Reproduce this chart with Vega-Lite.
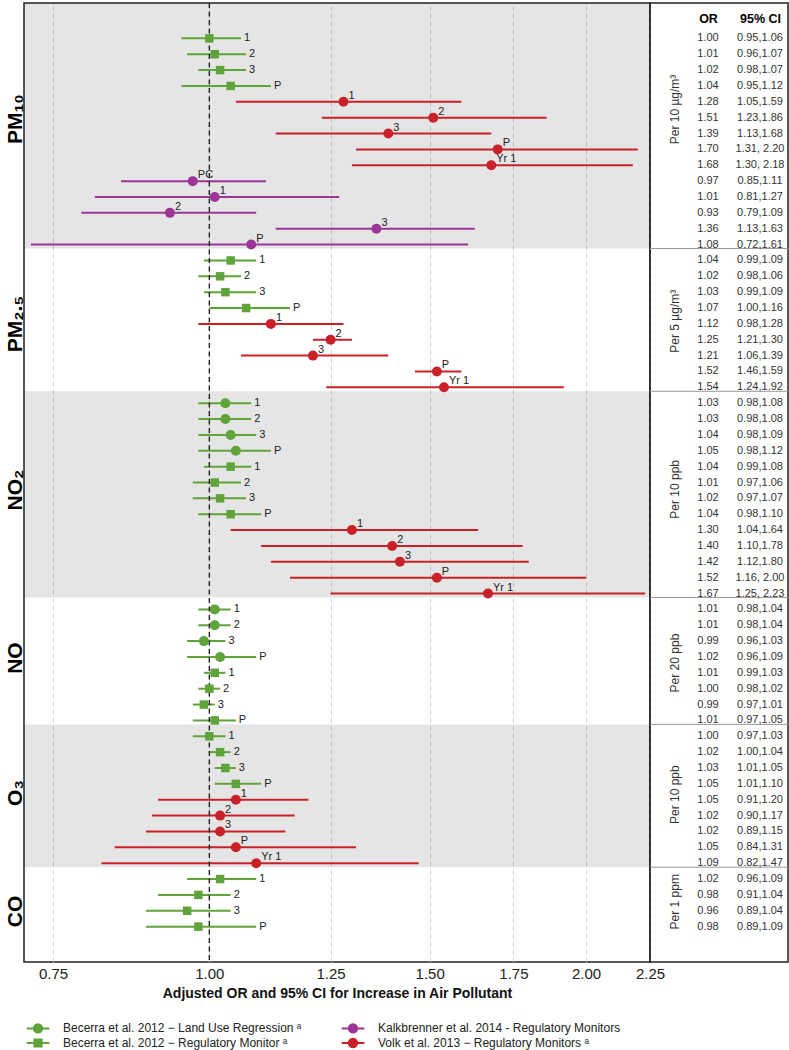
{
  "$schema": "https://vega.github.io/schema/vega-lite/v6.json",
  "padding": {"left": 3, "top": 1, "right": 0, "bottom": 0},
  "config": {
    "font": "Liberation Sans",
    "view": {"stroke": "#222", "strokeWidth": 1.5},
    "axis": {"labelFont": "Liberation Sans", "titleFont": "Liberation Sans"},
    "legend": {"labelFont": "Liberation Sans"}
  },
  "datasets": {
    "rows": [
      {"row": 1, "pol": "PM10", "study": "RM", "lab": "1", "or": 1.00, "lo": 0.95, "hi": 1.06, "ci": "0.95,1.06"},
      {"row": 2, "pol": "PM10", "study": "RM", "lab": "2", "or": 1.01, "lo": 0.96, "hi": 1.07, "ci": "0.96,1.07"},
      {"row": 3, "pol": "PM10", "study": "RM", "lab": "3", "or": 1.02, "lo": 0.98, "hi": 1.07, "ci": "0.98,1.07"},
      {"row": 4, "pol": "PM10", "study": "RM", "lab": "P", "or": 1.04, "lo": 0.95, "hi": 1.12, "ci": "0.95,1.12"},
      {"row": 5, "pol": "PM10", "study": "VOL", "lab": "1", "or": 1.28, "lo": 1.05, "hi": 1.59, "ci": "1.05,1.59"},
      {"row": 6, "pol": "PM10", "study": "VOL", "lab": "2", "or": 1.51, "lo": 1.23, "hi": 1.86, "ci": "1.23,1.86"},
      {"row": 7, "pol": "PM10", "study": "VOL", "lab": "3", "or": 1.39, "lo": 1.13, "hi": 1.68, "ci": "1.13,1.68"},
      {"row": 8, "pol": "PM10", "study": "VOL", "lab": "P", "or": 1.70, "lo": 1.31, "hi": 2.20, "ci": "1.31, 2.20"},
      {"row": 9, "pol": "PM10", "study": "VOL", "lab": "Yr 1", "or": 1.68, "lo": 1.30, "hi": 2.18, "ci": "1.30, 2.18"},
      {"row": 10, "pol": "PM10", "study": "KAL", "lab": "PC", "or": 0.97, "lo": 0.85, "hi": 1.11, "ci": "0.85,1.11"},
      {"row": 11, "pol": "PM10", "study": "KAL", "lab": "1", "or": 1.01, "lo": 0.81, "hi": 1.27, "ci": "0.81,1.27"},
      {"row": 12, "pol": "PM10", "study": "KAL", "lab": "2", "or": 0.93, "lo": 0.79, "hi": 1.09, "ci": "0.79,1.09"},
      {"row": 13, "pol": "PM10", "study": "KAL", "lab": "3", "or": 1.36, "lo": 1.13, "hi": 1.63, "ci": "1.13,1.63"},
      {"row": 14, "pol": "PM10", "study": "KAL", "lab": "P", "or": 1.08, "lo": 0.72, "hi": 1.61, "ci": "0.72,1.61"},
      {"row": 15, "pol": "PM2.5", "study": "RM", "lab": "1", "or": 1.04, "lo": 0.99, "hi": 1.09, "ci": "0.99,1.09"},
      {"row": 16, "pol": "PM2.5", "study": "RM", "lab": "2", "or": 1.02, "lo": 0.98, "hi": 1.06, "ci": "0.98,1.06"},
      {"row": 17, "pol": "PM2.5", "study": "RM", "lab": "3", "or": 1.03, "lo": 0.99, "hi": 1.09, "ci": "0.99,1.09"},
      {"row": 18, "pol": "PM2.5", "study": "RM", "lab": "P", "or": 1.07, "lo": 1.00, "hi": 1.16, "ci": "1.00,1.16"},
      {"row": 19, "pol": "PM2.5", "study": "VOL", "lab": "1", "or": 1.12, "lo": 0.98, "hi": 1.28, "ci": "0.98,1.28"},
      {"row": 20, "pol": "PM2.5", "study": "VOL", "lab": "2", "or": 1.25, "lo": 1.21, "hi": 1.30, "ci": "1.21,1.30"},
      {"row": 21, "pol": "PM2.5", "study": "VOL", "lab": "3", "or": 1.21, "lo": 1.06, "hi": 1.39, "ci": "1.06,1.39"},
      {"row": 22, "pol": "PM2.5", "study": "VOL", "lab": "P", "or": 1.52, "lo": 1.46, "hi": 1.59, "ci": "1.46,1.59"},
      {"row": 23, "pol": "PM2.5", "study": "VOL", "lab": "Yr 1", "or": 1.54, "lo": 1.24, "hi": 1.92, "ci": "1.24,1.92"},
      {"row": 24, "pol": "NO2", "study": "LUR", "lab": "1", "or": 1.03, "lo": 0.98, "hi": 1.08, "ci": "0.98,1.08"},
      {"row": 25, "pol": "NO2", "study": "LUR", "lab": "2", "or": 1.03, "lo": 0.98, "hi": 1.08, "ci": "0.98,1.08"},
      {"row": 26, "pol": "NO2", "study": "LUR", "lab": "3", "or": 1.04, "lo": 0.98, "hi": 1.09, "ci": "0.98,1.09"},
      {"row": 27, "pol": "NO2", "study": "LUR", "lab": "P", "or": 1.05, "lo": 0.98, "hi": 1.12, "ci": "0.98,1.12"},
      {"row": 28, "pol": "NO2", "study": "RM", "lab": "1", "or": 1.04, "lo": 0.99, "hi": 1.08, "ci": "0.99,1.08"},
      {"row": 29, "pol": "NO2", "study": "RM", "lab": "2", "or": 1.01, "lo": 0.97, "hi": 1.06, "ci": "0.97,1.06"},
      {"row": 30, "pol": "NO2", "study": "RM", "lab": "3", "or": 1.02, "lo": 0.97, "hi": 1.07, "ci": "0.97,1.07"},
      {"row": 31, "pol": "NO2", "study": "RM", "lab": "P", "or": 1.04, "lo": 0.98, "hi": 1.10, "ci": "0.98,1.10"},
      {"row": 32, "pol": "NO2", "study": "VOL", "lab": "1", "or": 1.30, "lo": 1.04, "hi": 1.64, "ci": "1.04,1.64"},
      {"row": 33, "pol": "NO2", "study": "VOL", "lab": "2", "or": 1.40, "lo": 1.10, "hi": 1.78, "ci": "1.10,1.78"},
      {"row": 34, "pol": "NO2", "study": "VOL", "lab": "3", "or": 1.42, "lo": 1.12, "hi": 1.80, "ci": "1.12,1.80"},
      {"row": 35, "pol": "NO2", "study": "VOL", "lab": "P", "or": 1.52, "lo": 1.16, "hi": 2.00, "ci": "1.16, 2.00"},
      {"row": 36, "pol": "NO2", "study": "VOL", "lab": "Yr 1", "or": 1.67, "lo": 1.25, "hi": 2.23, "ci": "1.25, 2.23"},
      {"row": 37, "pol": "NO", "study": "LUR", "lab": "1", "or": 1.01, "lo": 0.98, "hi": 1.04, "ci": "0.98,1.04"},
      {"row": 38, "pol": "NO", "study": "LUR", "lab": "2", "or": 1.01, "lo": 0.98, "hi": 1.04, "ci": "0.98,1.04"},
      {"row": 39, "pol": "NO", "study": "LUR", "lab": "3", "or": 0.99, "lo": 0.96, "hi": 1.03, "ci": "0.96,1.03"},
      {"row": 40, "pol": "NO", "study": "LUR", "lab": "P", "or": 1.02, "lo": 0.96, "hi": 1.09, "ci": "0.96,1.09"},
      {"row": 41, "pol": "NO", "study": "RM", "lab": "1", "or": 1.01, "lo": 0.99, "hi": 1.03, "ci": "0.99,1.03"},
      {"row": 42, "pol": "NO", "study": "RM", "lab": "2", "or": 1.00, "lo": 0.98, "hi": 1.02, "ci": "0.98,1.02"},
      {"row": 43, "pol": "NO", "study": "RM", "lab": "3", "or": 0.99, "lo": 0.97, "hi": 1.01, "ci": "0.97,1.01"},
      {"row": 44, "pol": "NO", "study": "RM", "lab": "P", "or": 1.01, "lo": 0.97, "hi": 1.05, "ci": "0.97,1.05"},
      {"row": 45, "pol": "O3", "study": "RM", "lab": "1", "or": 1.00, "lo": 0.97, "hi": 1.03, "ci": "0.97,1.03"},
      {"row": 46, "pol": "O3", "study": "RM", "lab": "2", "or": 1.02, "lo": 1.00, "hi": 1.04, "ci": "1.00,1.04"},
      {"row": 47, "pol": "O3", "study": "RM", "lab": "3", "or": 1.03, "lo": 1.01, "hi": 1.05, "ci": "1.01,1.05"},
      {"row": 48, "pol": "O3", "study": "RM", "lab": "P", "or": 1.05, "lo": 1.01, "hi": 1.10, "ci": "1.01,1.10"},
      {"row": 49, "pol": "O3", "study": "VOL", "lab": "1", "or": 1.05, "lo": 0.91, "hi": 1.20, "ci": "0.91,1.20"},
      {"row": 50, "pol": "O3", "study": "VOL", "lab": "2", "or": 1.02, "lo": 0.90, "hi": 1.17, "ci": "0.90,1.17"},
      {"row": 51, "pol": "O3", "study": "VOL", "lab": "3", "or": 1.02, "lo": 0.89, "hi": 1.15, "ci": "0.89,1.15"},
      {"row": 52, "pol": "O3", "study": "VOL", "lab": "P", "or": 1.05, "lo": 0.84, "hi": 1.31, "ci": "0.84,1.31"},
      {"row": 53, "pol": "O3", "study": "VOL", "lab": "Yr 1", "or": 1.09, "lo": 0.82, "hi": 1.47, "ci": "0.82,1.47"},
      {"row": 54, "pol": "CO", "study": "RM", "lab": "1", "or": 1.02, "lo": 0.96, "hi": 1.09, "ci": "0.96,1.09"},
      {"row": 55, "pol": "CO", "study": "RM", "lab": "2", "or": 0.98, "lo": 0.91, "hi": 1.04, "ci": "0.91,1.04"},
      {"row": 56, "pol": "CO", "study": "RM", "lab": "3", "or": 0.96, "lo": 0.89, "hi": 1.04, "ci": "0.89,1.04"},
      {"row": 57, "pol": "CO", "study": "RM", "lab": "P", "or": 0.98, "lo": 0.89, "hi": 1.09, "ci": "0.89,1.09"}
    ],
    "bands": [
      {"pol": "PM10", "top": -1.23, "bottom": 14.25},
      {"pol": "NO2", "top": 23.25, "bottom": 36.25},
      {"pol": "O3", "top": 44.25, "bottom": 53.25}
    ],
    "bounds": [{"b": 14.25}, {"b": 23.25}, {"b": 36.25}, {"b": 44.25}, {"b": 53.25}]
  },
  "spacing": 0,
  "bounds": "flush",
  "hconcat": [
    {
      "width": 626,
      "height": 959,
      "layer": [
        {
          "data": {"name": "bands"},
          "mark": {"type": "rect", "color": "#000", "opacity": 0.1},
          "encoding": {
            "y": {"field": "top", "type": "quantitative",
              "scale": {"domain": [-1.23, 59.23], "reverse": true, "nice": false, "zero": false},
              "axis": {"title": null, "values": [6.06, 18.98, 29.44, 40.04, 48.55, 56.01],
                "labelExpr": "datum.value < 10 ? 'PM₁₀' : datum.value < 24 ? 'PM₂.₅' : datum.value < 35 ? 'NO₂' : datum.value < 44 ? 'NO' : datum.value < 53 ? 'O₃' : 'CO'",
                "labelAngle": 270, "labelAlign": "center", "labelBaseline": "alphabetic", "labelPadding": 3,
                "labelFontSize": 21, "labelFontWeight": "bold", "labelColor": "#000",
                "ticks": false, "domain": false, "grid": false, "labelOverlap": false}},
            "y2": {"field": "bottom"}
          }
        },
        {
          "data": {"name": "rows"},
          "transform": [{"filter": "datum.study === 'LUR' || datum.study === 'RM'"}],
          "mark": {"type": "rule", "strokeWidth": 2, "color": "#5fa33a"},
          "encoding": {
            "x": {"field": "lo", "type": "quantitative",
              "scale": {"type": "log", "domain": [0.711, 2.25], "nice": false, "zero": false},
              "axis": {"title": "Adjusted OR and 95% CI for Increase in Air Pollutant",
                "values": [0.75, 1, 1.25, 1.5, 1.75, 2, 2.25], "format": ".2f",
                "labelFontSize": 15, "labelColor": "#222", "labelPadding": 4, "labelFlush": false,
                "titleFontSize": 14, "titleFontWeight": "bold", "titleColor": "#111", "titlePadding": 5,
                "ticks": false, "domain": false, "grid": true, "gridColor": "#c4c4c4", "gridDash": [4, 4], "gridWidth": 0.8}},
            "x2": {"field": "hi"},
            "y": {"field": "row", "type": "quantitative"}
          }
        },
        {
          "data": {"name": "rows"},
          "transform": [{"filter": "datum.study === 'KAL'"}],
          "mark": {"type": "rule", "strokeWidth": 2, "color": "#9b3596"},
          "encoding": {
            "x": {"field": "lo", "type": "quantitative"},
            "x2": {"field": "hi"},
            "y": {"field": "row", "type": "quantitative"}
          }
        },
        {
          "data": {"name": "rows"},
          "transform": [{"filter": "datum.study === 'VOL'"}],
          "mark": {"type": "rule", "strokeWidth": 2, "color": "#c8212a"},
          "encoding": {
            "x": {"field": "lo", "type": "quantitative"},
            "x2": {"field": "hi"},
            "y": {"field": "row", "type": "quantitative"}
          }
        },
        {
          "data": {"values": [{}]},
          "mark": {"type": "rule", "color": "#222", "strokeWidth": 1.4, "strokeDash": [5, 3.5]},
          "encoding": {"x": {"datum": 1, "type": "quantitative"}}
        },
        {
          "data": {"name": "rows"},
          "transform": [{"filter": "datum.study === 'RM'"}],
          "mark": {"type": "point", "shape": "square", "filled": true, "opacity": 1, "size": 72},
          "encoding": {
            "x": {"field": "or", "type": "quantitative"},
            "y": {"field": "row", "type": "quantitative"},
            "color": {"field": "study", "type": "nominal",
              "scale": {"domain": ["LUR", "RM", "KAL", "VOL"], "range": ["#5fa33a", "#5fa33a", "#9b3596", "#c8212a"]},
              "legend": {
                "orient": "none", "legendX": 8, "legendY": 1019, "columns": 2, "title": null,
                "padding": 0, "symbolSize": 100, "symbolStrokeWidth": 2, "symbolOpacity": 1, "labelOffset": 19, "columnPadding": 35, "rowPadding": -4,
                "labelFontSize": 12, "labelColor": "#222", "labelLimit": 0,
                "labelExpr": "datum.value === 'LUR' ? 'Becerra et al. 2012 − Land Use Regression ᵃ' : datum.value === 'RM' ? 'Becerra et al. 2012 − Regulatory Monitor ᵃ' : datum.value === 'KAL' ? 'Kalkbrenner et al. 2014 - Regulatory Monitors' : 'Volk et al. 2013 − Regulatory Monitors ᵃ'"
              }}
          }
        },
        {
          "data": {"name": "rows"},
          "transform": [{"filter": "datum.study !== 'RM'"}],
          "mark": {"type": "point", "shape": "circle", "filled": true, "opacity": 1, "size": 100},
          "encoding": {
            "x": {"field": "or", "type": "quantitative"},
            "y": {"field": "row", "type": "quantitative"},
            "color": {"field": "study", "type": "nominal"}
          }
        },
        {
          "data": {"name": "rows"},
          "transform": [{"filter": "datum.study === 'LUR' || datum.study === 'RM'"}],
          "mark": {"type": "text", "align": "left", "baseline": "middle", "dx": 3, "fontSize": 11, "color": "#222"},
          "encoding": {
            "x": {"field": "hi", "type": "quantitative"},
            "y": {"field": "row", "type": "quantitative"},
            "text": {"field": "lab"}
          }
        },
        {
          "data": {"name": "rows"},
          "transform": [{"filter": "datum.study === 'VOL' || datum.study === 'KAL'"}],
          "mark": {"type": "text", "align": "left", "baseline": "middle", "dx": 5, "dy": -6, "fontSize": 11, "color": "#222"},
          "encoding": {
            "x": {"field": "or", "type": "quantitative"},
            "y": {"field": "row", "type": "quantitative"},
            "text": {"field": "lab"}
          }
        },
        {
          "data": {"name": "rows"},
          "transform": [{"filter": "datum.row < 0"}],
          "mark": {"type": "point", "filled": true, "opacity": 1},
          "encoding": {
            "x": {"field": "or", "type": "quantitative"},
            "y": {"field": "row", "type": "quantitative"},
            "shape": {"field": "study", "type": "nominal",
              "scale": {"domain": ["LUR", "RM", "KAL", "VOL"], "range": [
                "M-2.28,0H2.28M0.84,0A0.84,0.84,0,1,1,-0.84,0A0.84,0.84,0,1,1,0.84,0Z",
                "M-2.28,0H2.28M-0.72,-0.72H0.72V0.72H-0.72Z",
                "M-2.28,0H2.28M0.84,0A0.84,0.84,0,1,1,-0.84,0A0.84,0.84,0,1,1,0.84,0Z",
                "M-2.28,0H2.28M0.84,0A0.84,0.84,0,1,1,-0.84,0A0.84,0.84,0,1,1,0.84,0Z"]}},
            "stroke": {"field": "study", "type": "nominal",
              "scale": {"domain": ["LUR", "RM", "KAL", "VOL"], "range": ["#5fa33a", "#5fa33a", "#9b3596", "#c8212a"]}}
          }
        }
      ]
    },
    {
      "width": 138,
      "height": 959,
      "layer": [
        {
          "data": {"name": "bounds"},
          "mark": {"type": "rule", "color": "#999", "strokeWidth": 1},
          "encoding": {
            "y": {"field": "b", "type": "quantitative",
              "scale": {"domain": [-1.23, 59.23], "reverse": true, "nice": false, "zero": false},
              "axis": {"title": null, "orient": "left", "offset": -28, "values": [5.45, 18.8, 29.4, 40.35, 48.65, 55.4],
                "labelExpr": "datum.value < 10 ? 'Per 10 µg/m³' : datum.value < 24 ? 'Per 5 µg/m³' : datum.value < 35 ? 'Per 10 ppb' : datum.value < 44 ? 'Per 20 ppb' : datum.value < 53 ? 'Per 10 ppb' : 'Per 1 ppm'",
                "labelAngle": 270, "labelAlign": "center", "labelBaseline": "alphabetic", "labelPadding": 0,
                "labelFontSize": 12, "labelColor": "#333", "ticks": false, "domain": false, "grid": false, "labelOverlap": false}}
          }
        },
        {
          "data": {"name": "rows"},
          "mark": {"type": "text", "align": "center", "baseline": "middle", "fontSize": 11, "color": "#333"},
          "encoding": {
            "x": {"datum": "OR", "type": "nominal",
              "scale": {"type": "point", "domain": ["OR", "95% CI"], "range": [58, 110], "padding": 0},
              "axis": {"title": null, "orient": "top", "offset": -19.5, "ticks": false, "domain": false, "grid": false,
                "labelAngle": 0, "labelPadding": 0, "labelBaseline": "alphabetic", "labelFontSize": 12.5, "labelFontWeight": "bold", "labelColor": "#000"}},
            "y": {"field": "row", "type": "quantitative"},
            "text": {"field": "or", "type": "quantitative", "format": ".2f"}
          }
        },
        {
          "data": {"name": "rows"},
          "mark": {"type": "text", "align": "center", "baseline": "middle", "fontSize": 11, "color": "#333"},
          "encoding": {
            "x": {"datum": "95% CI", "type": "nominal"},
            "y": {"field": "row", "type": "quantitative"},
            "text": {"field": "ci"}
          }
        }
      ]
    }
  ]
}
